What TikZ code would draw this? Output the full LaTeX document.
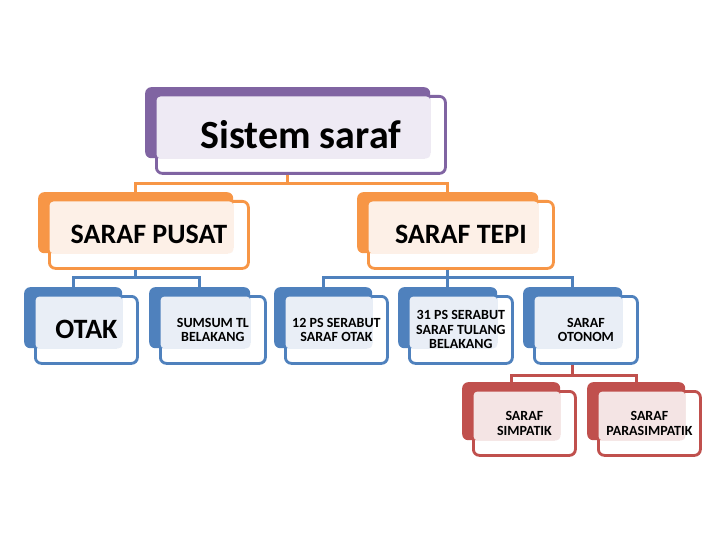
\documentclass[tikz,border=0pt]{standalone}
\usepackage{fontspec}
\setmainfont{Carlito}
\definecolor{lilac}{HTML}{8064A2}
\definecolor{lilactint}{HTML}{EEEAF4}
\definecolor{peach}{HTML}{F79646}
\definecolor{peachtint}{HTML}{FDF0E7}
\definecolor{steel}{HTML}{4F81BD}
\definecolor{steeltint}{HTML}{E9EEF6}
\definecolor{brick}{HTML}{C0504D}
\definecolor{bricktint}{HTML}{F4E4E4}

% one SmartArt-like box: name, colour, tint, back x, back y, back width, back height, font, text
\newcommand\smartbox[9]{%
    \node[frontbox, draw=#2, minimum width=#6+4, minimum height=#7+6,
          anchor=north west] (#1) at (#4+10,#5+8) {};
    \node[backbox, fill=#2, minimum width=#6, minimum height=#7,
          anchor=north west] (#1-b) at (#4,#5) {};
    \fill[#3, rounded corners=4pt]
        ([shift={(1.5,1.5)}]#1.north west) rectangle (#1-b.south east);
    \node[font=#8, align=center, inner sep=0pt] (#1-t) at (#1.center) {#9};
}

\begin{document}
\begin{tikzpicture}[
            x = 1pt, y = -1pt,
            frontbox/.style = {
                rectangle,
                rounded corners = 6pt,
                fill            = white,
                line width      = 2.8pt,
                inner sep       = 0pt
            },
            backbox/.style = {
                rectangle,
                rounded corners = 6pt,
                inner sep       = 0pt
            },
            link/.style = {line width = 2.8pt, draw = #1}
        ]
    \useasboundingbox (0,0) rectangle (720,540);

    \smartbox{sistem}{lilac}{lilactint}{145}{87}{285}{71}
        {\bfseries\fontsize{40}{44}\selectfont}{Sistem saraf}

    \smartbox{pusat}{peach}{peachtint}{38}{192}{195}{61}
        {\bfseries\fontsize{28}{32}\selectfont}{SARAF PUSAT}
    \smartbox{tepi}{peach}{peachtint}{357}{192}{181}{61}
        {\bfseries\fontsize{28}{32}\selectfont}{SARAF TEPI}

    \smartbox{otak}{steel}{steeltint}{24}{287}{98}{61}
        {\bfseries\fontsize{28}{32}\selectfont}{OTAK}
    \smartbox{sumsum}{steel}{steeltint}{149}{287}{101}{61}
        {\bfseries\fontsize{14}{14.5}\selectfont}{SUMSUM TL\\BELAKANG}
    \smartbox{ps12}{steel}{steeltint}{274}{287}{98}{61}
        {\bfseries\fontsize{14}{14.5}\selectfont}{12 PS SERABUT\\SARAF OTAK}
    \smartbox{ps31}{steel}{steeltint}{398}{287}{99}{61}
        {\bfseries\fontsize{14}{14.5}\selectfont}{31 PS SERABUT\\SARAF TULANG\\BELAKANG}
    \smartbox{otonom}{steel}{steeltint}{523}{287}{99}{61}
        {\bfseries\fontsize{14}{14.5}\selectfont}{SARAF\\OTONOM}

    \smartbox{simpatik}{brick}{bricktint}{462}{382}{98}{58}
        {\bfseries\fontsize{14}{14.5}\selectfont}{SARAF\\SIMPATIK}
    \smartbox{para}{brick}{bricktint}{587}{382}{98}{58}
        {\bfseries\fontsize{14}{14.5}\selectfont}{SARAF\\PARASIMPATIK}

    % connectors
    \draw[link=peach] (sistem-b |- sistem.south) -- ++(0,9) -| (pusat-b.north);
    \draw[link=peach] (sistem-b |- sistem.south) -- ++(0,9) -| (tepi-b.north);

    \draw[link=steel] (pusat-b |- pusat.south) -- ++(0,8) -| (otak-b.north);
    \draw[link=steel] (pusat-b |- pusat.south) -- ++(0,8) -| (sumsum-b.north);
    \draw[link=steel] (tepi-b |- tepi.south) -- ++(0,8) -| (ps12-b.north);
    \draw[link=steel] (tepi-b |- tepi.south) -- ++(0,8) -| (ps31-b.north);
    \draw[link=steel] (tepi-b |- tepi.south) -- ++(0,8) -| (otonom-b.north);

    \draw[link=brick] (otonom-b |- otonom.south) -- ++(0,11) -| (simpatik-b.north);
    \draw[link=brick] (otonom-b |- otonom.south) -- ++(0,11) -| (para-b.north);
\end{tikzpicture}
\end{document}
